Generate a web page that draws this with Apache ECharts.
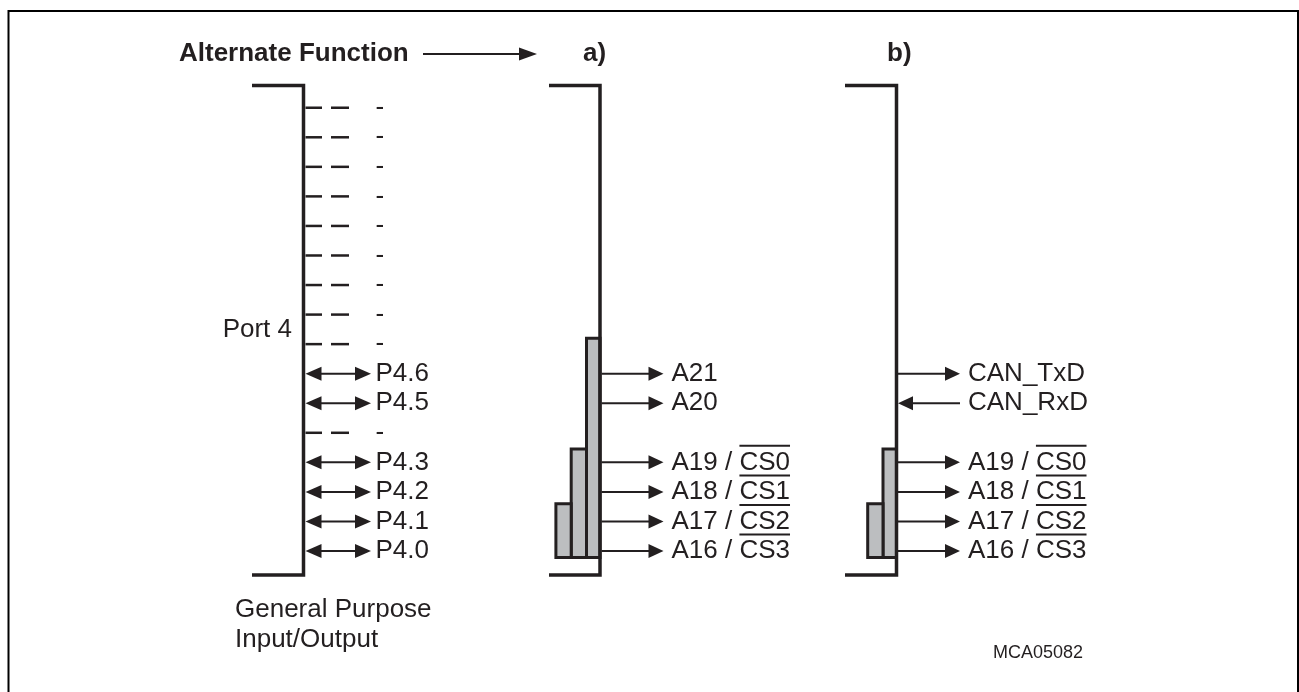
<!DOCTYPE html>
<html>
<head>
<meta charset="utf-8">
<title>Port 4 alternate functions</title>
<script src="https://cdn.jsdelivr.net/npm/echarts@6/dist/echarts.min.js"></script>
<style>
  html, body { margin: 0; padding: 0; background: #fff; }
  #chart { width: 1299px; height: 692px; }
</style>
</head>
<body>
<div id="chart"></div>
<script>
// row 0 = P4.0 (bottom) ... row 15 = P4.15 (top)
const portPins = ['P4.0', 'P4.1', 'P4.2', 'P4.3', '-', 'P4.5', 'P4.6',
  '-', '-', '-', '-', '-', '-', '-', '-', '-'];

// alternate function a)
const altARows = [6, 5, 3, 2, 1, 0];
const altANames = ['A21', 'A20', 'A19 / ', 'A18 / ', 'A17 / ', 'A16 / '];
const altAOver = ['', '', 'CS0', 'CS1', 'CS2', 'CS3']; // overlined part
const altADir = ['out', 'out', 'out', 'out', 'out', 'out'];
// grey groups [bottom row, top row], right to left
const groupsA = [[-0.22, 7.2], [-0.22, 3.45], [-0.22, 1.6]];

// alternate function b)
const altBRows = [6, 5, 3, 2, 1, 0];
const altBNames = ['CAN_TxD', 'CAN_RxD', 'A19 / ', 'A18 / ', 'A17 / ', 'A16 / '];
const altBOver = ['', '', 'CS0', 'CS1', 'CS2', 'CS3'];
const altBDir = ['out', 'in', 'out', 'out', 'out', 'out'];
const groupsB = [[-0.22, 3.45], [-0.22, 1.6]];

// texts
const titleText = 'Alternate Function';
const panelNames = ['a)', 'b)'];
const portName = 'Port 4';
const gpioLines = ['General Purpose', 'Input/Output'];
const figId = 'MCA05082';

const INK = '#231f20';
const GREY = '#bcbec0';
const FAM = '"Liberation Sans", Arial, Helvetica, sans-serif';
const FONT = '26px ' + FAM;
const BOLD = 'bold 26px ' + FAM;

// bracket lines (x of vertical line, x of left end)
const PORT_X = 303.5, A_X = 600, B_X = 896.5;
const brackets = [[PORT_X, 252], [A_X, 549], [B_X, 845]];
const ROW_TOP = 15.75, ROW_BOT = -0.81;

const ctx = document.createElement('canvas').getContext('2d');
function textW(s, font) { ctx.font = font; return ctx.measureText(s).width; }

function hline(x1, x2, y, w) {
  return { type: 'line', shape: { x1: x1, y1: y, x2: x2, y2: y },
    style: { stroke: INK, lineWidth: w } };
}
function head(tipX, y, dir, len, half) {
  len = len || 15; half = half || 7;
  return { type: 'polygon',
    shape: { points: [[tipX, y], [tipX - dir * len, y - half], [tipX - dir * len, y + half]] },
    style: { fill: INK } };
}
function label(x, y, txt, font, align) {
  return { type: 'text', x: x, y: y,
    style: { text: txt, font: font || FONT, fill: INK,
      textAlign: align || 'left', textVerticalAlign: 'middle' } };
}

function altSeries(lineX, rows, names, overs, dirs) {
  return {
    type: 'custom', z: 3, clip: false,
    data: rows.map(r => [lineX, r]),
    renderItem: function (params, api) {
      const i = params.dataIndex;
      const p = api.coord([api.value(0), api.value(1)]);
      const x0 = p[0] + 1.5, y = p[1];
      const tip = x0 + 62;
      const kids = [];
      if (dirs[i] === 'out') {
        kids.push(hline(x0, tip - 12, y, 2), head(tip, y, 1));
      } else {
        kids.push(hline(x0 + 12, tip, y, 2), head(x0, y, -1));
      }
      const tx = tip + 8;
      kids.push(label(tx, y, names[i] + overs[i]));
      if (overs[i]) {
        const a = tx + textW(names[i], FONT);
        const b = tx + textW(names[i] + overs[i], FONT);
        kids.push(hline(a, b, y - 16.5, 2));
      }
      return { type: 'group', children: kids };
    }
  };
}

function groupSeries(lineX, groups) {
  return {
    type: 'custom', z: 1, clip: false,
    data: groups.map((g, i) => [i, g[0], g[1]]),
    renderItem: function (params, api) {
      const i = api.value(0);
      const bot = api.coord([lineX, api.value(1)]);
      const top = api.coord([lineX, api.value(2)]);
      const left = lineX - 13.5 - 15.3 * i;
      const right = i === 0 ? lineX : lineX - 13.5 - 15.3 * (i - 1);
      return { type: 'rect',
        shape: { x: left, y: top[1], width: right - left, height: bot[1] - top[1] },
        style: { fill: GREY, stroke: INK, lineWidth: 3 } };
    }
  };
}

const chart = echarts.init(document.getElementById('chart'));
chart.setOption({
  animation: false,
  backgroundColor: '#fff',
  grid: { left: 0, right: 0, top: 0, bottom: 0 },
  xAxis: { type: 'value', min: 0, max: 1299, show: false },
  yAxis: { type: 'value', min: -4.772, max: 18.646, show: false },
  graphic: [{
    type: 'rect', silent: true,
    shape: { x: 8.5, y: 11, width: 1289.5, height: 700 },
    style: { fill: 'none', stroke: '#000', lineWidth: 2 }
  }],
  series: [
    groupSeries(A_X, groupsA),
    groupSeries(B_X, groupsB),
    {
      // brackets
      type: 'custom', z: 2, clip: false,
      data: brackets.map(b => [b[0], b[1]]),
      renderItem: function (params, api) {
        const t = api.coord([api.value(0), ROW_TOP]);
        const b = api.coord([api.value(0), ROW_BOT]);
        const l = api.coord([api.value(1), ROW_TOP]);
        return { type: 'polyline',
          shape: { points: [[l[0], t[1]], [t[0], t[1]], [b[0], b[1]], [l[0], b[1]]] },
          style: { stroke: INK, lineWidth: 3.5, fill: null, lineJoin: 'miter' } };
      }
    },
    {
      // port 4 pins
      type: 'custom', z: 3, clip: false,
      data: portPins.map((_, r) => [PORT_X, r]),
      renderItem: function (params, api) {
        const lab = portPins[params.dataIndex];
        const p = api.coord([api.value(0), api.value(1)]);
        const x0 = p[0], y = p[1];
        const kids = [];
        if (lab === '-') {
          kids.push(hline(x0 + 2, x0 + 18.5, y, 2.5), hline(x0 + 27.5, x0 + 45.5, y, 2.5));
        } else {
          kids.push(hline(x0 + 12, x0 + 56, y, 2), head(x0 + 2, y, -1, 16), head(x0 + 67.5, y, 1, 16));
        }
        kids.push(label(x0 + 72, y, lab));
        return { type: 'group', children: kids };
      }
    },
    altSeries(A_X, altARows, altANames, altAOver, altADir),
    altSeries(B_X, altBRows, altBNames, altBOver, altBDir),
    {
      // captions
      type: 'custom', z: 3, clip: false,
      data: [[0, 0]],
      renderItem: function (params, api) {
        const c = (x, r) => api.coord([x, r]);
        const ty = c(0, 16.82)[1];
        const kids = [
          label(179, ty, titleText, BOLD),
          hline(423, 522, ty, 2),
          head(537, ty, 1, 18, 6.5),
          label(583, ty, panelNames[0], BOLD),
          label(887, ty, panelNames[1], BOLD),
          label(292, c(0, 7.5)[1], portName, FONT, 'right'),
          label(235, c(0, -2)[1], gpioLines[0]),
          label(235, c(0, -3)[1], gpioLines[1]),
          label(993, c(0, -3.45)[1], figId, '18px ' + FAM)
        ];
        return { type: 'group', children: kids };
      }
    }
  ]
});
</script>
</body>
</html>
